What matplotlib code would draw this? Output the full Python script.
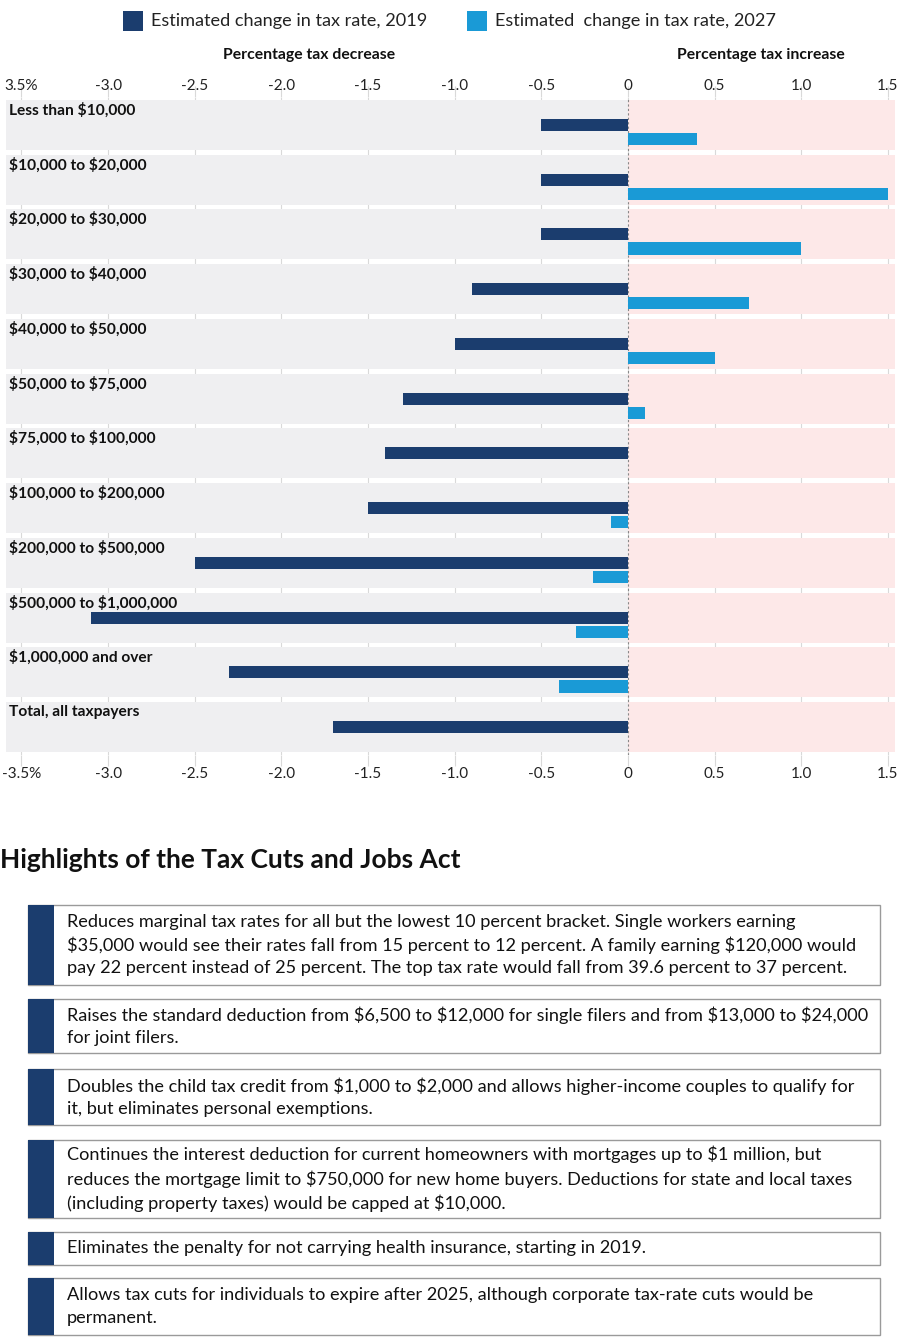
import numpy as np
import matplotlib
matplotlib.use("Agg")
import matplotlib.pyplot as plt
from matplotlib.patches import Rectangle

plt.rcParams["font.family"] = ["Lato", "DejaVu Sans"]
plt.rcParams["text.parse_math"] = False

# data
categories = [
    "Less than $10,000",
    "$10,000 to $20,000",
    "$20,000 to $30,000",
    "$30,000 to $40,000",
    "$40,000 to $50,000",
    "$50,000 to $75,000",
    "$75,000 to $100,000",
    "$100,000 to $200,000",
    "$200,000 to $500,000",
    "$500,000 to $1,000,000",
    "$1,000,000 and over",
    "Total, all taxpayers",
]
change_2019 = [-0.5, -0.5, -0.5, -0.9, -1.0, -1.3, -1.4, -1.5, -2.5, -3.1, -2.3, -1.7]
change_2027 = [0.4, 1.5, 1.0, 0.7, 0.5, 0.1, 0.0, -0.1, -0.2, -0.3, -0.4, 0.0]
tick_vals = [-3.5, -3.0, -2.5, -2.0, -1.5, -1.0, -0.5, 0, 0.5, 1.0, 1.5]
tick_labels_bottom = ["-3.5%", "-3.0", "-2.5", "-2.0", "-1.5", "-1.0", "-0.5", "0", "0.5", "1.0", "1.5"]
tick_labels_top = ["3.5%", "-3.0", "-2.5", "-2.0", "-1.5", "-1.0", "-0.5", "0", "0.5", "1.0", "1.5"]
legend_labels = ["Estimated change in tax rate, 2019", "Estimated  change in tax rate, 2027"]

highlights = [
    "Reduces marginal tax rates for all but the lowest 10 percent bracket. Single workers earning\n"
    "$35,000 would see their rates fall from 15 percent to 12 percent. A family earning $120,000 would\n"
    "pay 22 percent instead of 25 percent. The top tax rate would fall from 39.6 percent to 37 percent.",
    "Raises the standard deduction from $6,500 to $12,000 for single filers and from $13,000 to $24,000\n"
    "for joint filers.",
    "Doubles the child tax credit from $1,000 to $2,000 and allows higher-income couples to qualify for\n"
    "it, but eliminates personal exemptions.",
    "Continues the interest deduction for current homeowners with mortgages up to $1 million, but\n"
    "reduces the mortgage limit to $750,000 for new home buyers. Deductions for state and local taxes\n"
    "(including property taxes) would be capped at $10,000.",
    "Eliminates the penalty for not carrying health insurance, starting in 2019.",
    "Allows tax cuts for individuals to expire after 2025, although corporate tax-rate cuts would be\n"
    "permanent.",
]
# box top / bottom in pixels
box_tops = [905, 999, 1069, 1140, 1232, 1278]
box_bottoms = [985, 1053, 1125, 1218, 1265, 1335]

dark = "#1b3d6e"
light = "#1a9ad6"
gray_band = "#efeff1"
pink_band = "#fde8e8"
grid_col = "#d9d9d9"

W, H = 900, 1344
fig = plt.figure(figsize=(W / 100, H / 100), dpi=100)

# overlay axes in pixel coords
ov = fig.add_axes([0, 0, 1, 1])
ov.set_xlim(0, W)
ov.set_ylim(H, 0)
ov.axis("off")

# chart axes
top_px, bot_px = 97.5, 754.5
left_px, right_px = 6, 895
ax = fig.add_axes([left_px / W, 1 - bot_px / H, (right_px - left_px) / W, (bot_px - top_px) / H])
xmin, xmax = -3.589, 1.541
ax.set_xlim(xmin, xmax)
n = len(categories)
ax.set_ylim(n - 0.5, -0.5)
ax.patch.set_alpha(0)

ax.grid(axis="x", color=grid_col, lw=0.8, zorder=0)
ax.set_axisbelow(True)
half = 0.455
for i, cat in enumerate(categories):
    ax.add_patch(Rectangle((xmin, i - half), 0 - xmin, 2 * half, color=gray_band, lw=0, zorder=1))
    ax.add_patch(Rectangle((0, i - half), xmax, 2 * half, color=pink_band, lw=0, zorder=1))
    ax.text(xmin + 0.017, i - 0.27, cat, fontsize=11.2, fontweight="bold", va="center", ha="left", color="#111111", zorder=4)

ax.axvline(0, color="#888888", lw=0.8, ls=(0, (2, 2)), zorder=2)

y = np.arange(n)
ax.barh(y, change_2019, height=0.22, color=dark, zorder=3, label=legend_labels[0])
ax.barh(y + 0.258, change_2027, height=0.22, color=light, zorder=3, label=legend_labels[1])

ax.set_xticks(tick_vals)
ax.set_xticklabels(tick_labels_bottom)
ax.set_yticks([])
for s in ax.spines.values():
    s.set_visible(False)
ax.tick_params(axis="x", which="both", top=False, bottom=True, labeltop=False, labelbottom=True,
               length=8, color=grid_col, width=0.8, labelsize=11, pad=1, labelcolor="#222222")
# top labels differ slightly (clipped minus)
ax2 = ax.secondary_xaxis("top")
ax2.set_xticks(tick_vals)
ax2.set_xticklabels(tick_labels_top)
ax2.tick_params(length=8, color=grid_col, width=0.8, labelsize=11, pad=-5, labelcolor="#222222")
for s in ax2.spines.values():
    s.set_visible(False)

# legend drawn manually in pixel space
ov.add_patch(Rectangle((123, 11), 20, 20, color=dark, lw=0))
ov.text(151, 21, legend_labels[0], fontsize=13.1, va="center", ha="left", color="#222222")
ov.add_patch(Rectangle((467, 11), 20, 20, color=light, lw=0))
ov.text(495, 21, legend_labels[1], fontsize=13.1, va="center", ha="left", color="#222222")

ov.text(309, 55, "Percentage tax decrease", fontsize=11.3, fontweight="bold", ha="center", va="center", color="#111111")
ov.text(761, 55, "Percentage tax increase", fontsize=11.3, fontweight="bold", ha="center", va="center", color="#111111")

# highlights
ov.text(0, 860, "Highlights of the Tax Cuts and Jobs Act", fontsize=19, fontweight="bold", ha="left", va="center", color="#111111")
for txt, t, b in zip(highlights, box_tops, box_bottoms):
    ov.add_patch(Rectangle((28, t), 852, b - t, facecolor="white", edgecolor="#9a9a9a", lw=1.0))
    ov.add_patch(Rectangle((28, t), 26, b - t, facecolor=dark, lw=0))
    ov.text(67, (t + b) / 2, txt, fontsize=13.1, ha="left", va="center", linespacing=1.48, color="#111111")

fig.savefig("out.png", dpi=100)
